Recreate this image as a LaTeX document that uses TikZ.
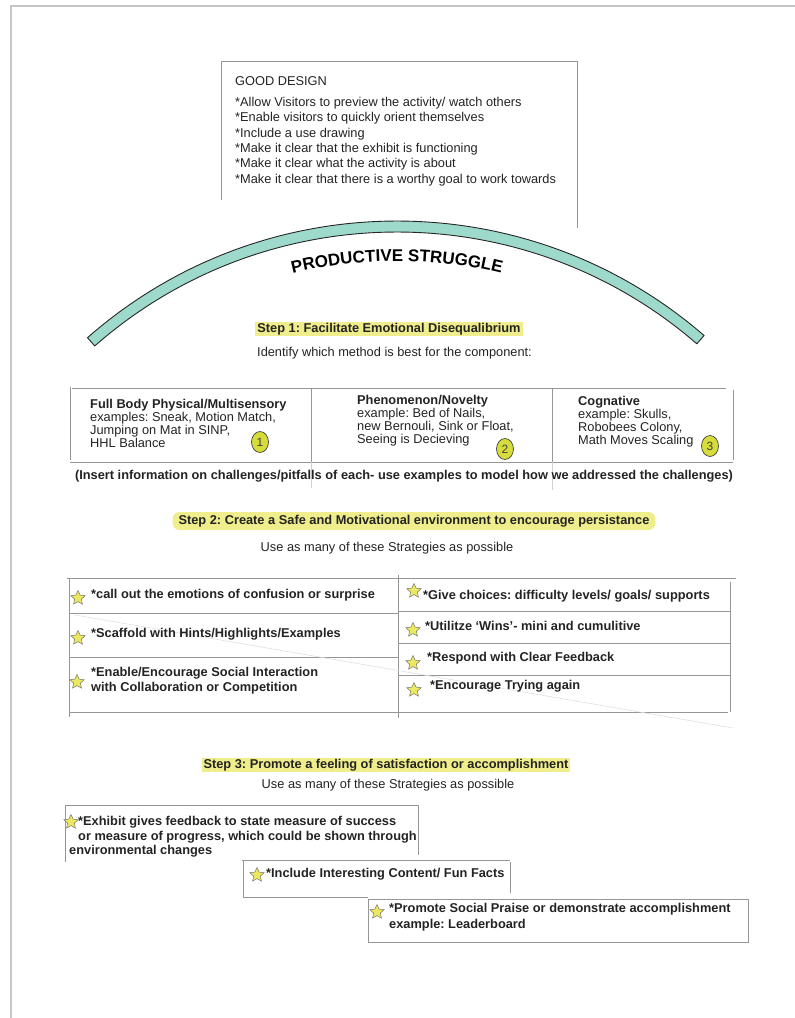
\documentclass[tikz,border=0pt]{standalone}
\usepackage{fontspec}
\setmainfont{Liberation Sans}
\usepackage{tikz}
\usetikzlibrary{shapes.geometric,decorations.text,positioning}
\definecolor{archteal}{RGB}{158,218,204}
\definecolor{hlyellow}{RGB}{240,238,140}
\definecolor{staryellow}{RGB}{236,232,96}
\definecolor{numgreen}{RGB}{214,220,58}
\definecolor{inkgray}{RGB}{35,35,35}
\definecolor{rulegray}{RGB}{150,150,150}
\newcommand{\bodyfont}{\fontsize{12.8}{15.4}\selectfont}
\frenchspacing

\begin{document}
\begin{tikzpicture}[x=1pt,y=-1pt,
  txt/.style={font=\bodyfont, text=inkgray, inner sep=0pt, align=left},
  boldtxt/.style={txt, font=\bodyfont\bfseries},
  hl/.style={fill=hlyellow, inner xsep=2pt, inner ysep=1pt},
  rule/.style={draw=rulegray, line width=.8pt},
  faintrule/.style={draw=rulegray!45, line width=.6pt},
  arcband/.style={draw=black!85, fill=archteal, line width=.9pt, line join=round},
  starmark/.style={star, star points=5, star point ratio=2.1, minimum size=15pt,
    inner sep=0pt, fill=staryellow, draw=black!55, line width=.5pt},
  numring/.style={ellipse, minimum width=17pt, minimum height=21pt, inner sep=0pt,
    fill=numgreen, draw=black!75, line width=.7pt, font=\fontsize{12}{12}\selectfont, text=black!75}
]
\useasboundingbox (0,0) rectangle (795,1018);

% page edge
\draw[gray!45, line width=1.5pt] (11,1018) -- (11,6) -- (795,6);

% good design box
\draw[rule] (221,200) -- (221,61) -- (577,61) -- (577,228);
\node[txt, anchor=west] (gdtitle) at (235,81) {GOOD DESIGN};
\node[txt, anchor=west] (gdlist) at (235,141.5) {*Allow Visitors to preview the activity/ watch others\\
  *Enable visitors to quickly orient themselves\\
  *Include a use drawing\\
  *Make it clear that the exhibit is functioning\\
  *Make it clear what the activity is about\\
  *Make it clear that there is a worthy goal to work towards};

% arch
\draw[arcband] (397,690) ++(228.7:469) arc[start angle=228.7, end angle=310.9, radius=469]
  -- ++(310.9:-11) arc[start angle=310.9, end angle=228.7, radius=458] -- cycle;
\path[decorate, decoration={text along path, text align=center,
  text={|\fontsize{17}{17}\selectfont\bfseries|PRODUCTIVE STRUGGLE}}]
  (397,701) ++(240:440) arc[start angle=240, end angle=300, radius=440];

% step 1
\node[boldtxt, hl] (stepone) at (389,329) {Step 1: Facilitate Emotional Disequalibrium};
\node[txt, anchor=west] (stepnote) at (257,353) {Identify which method is best for the component:};

\draw[rule] (72,388) -- (726,388);
\draw[rule] (70,387) -- (70,460);
\draw[rule] (70,462) -- (733,462);
\draw[rule] (733,390) -- (733,460);
\draw[rule] (311,388) -- (311,462);
\draw[faintrule] (311,462) -- (311,488);
\draw[rule] (552,388) -- (552,462);
\draw[faintrule] (552,462) -- (552,490);

\node[txt, anchor=west, font=\fontsize{12.8}{13}\selectfont] (methodA) at (90,423)
  {\textbf{Full Body Physical/Multisensory}\\examples: Sneak, Motion Match,\\Jumping on Mat in SINP,\\HHL Balance};
\node[txt, anchor=west, font=\fontsize{12.8}{13}\selectfont] (methodB) at (357,421)
  {\textbf{Phenomenon/Novelty}\\example: Bed of Nails,\\new Bernouli, Sink or Float,\\Seeing is Decieving};
\node[txt, anchor=west, font=\fontsize{12.8}{13}\selectfont] (methodC) at (578,422)
  {\textbf{Cognative}\\example: Skulls,\\Robobees Colony,\\Math Moves Scaling};
\node[numring] (numA) at (260,442) {1};
\node[numring] (numB) at (505,449) {2};
\node[numring] (numC) at (710,446) {3};

\node[boldtxt] (pitfalls) at (404,476) {(Insert information on challenges/pitfalls of each- use examples to model how we addressed the challenges)};

% step 2
\node[boldtxt, hl, rounded corners=7pt, inner xsep=6pt, inner ysep=3pt] (steptwo) at (414,521)
  {Step 2: Create a Safe and Motivational environment to encourage persistance};
\node[txt] (twonote) at (387,548) {Use as many of these Strategies as possible};

\draw[rule] (67,578) -- (736,578);
\draw[rule] (69,578) -- (69,717);
\draw[rule] (398,575) -- (398,718);
\draw[rule] (730,582) -- (730,712);
\draw[rule] (69,613) -- (398,613);
\draw[rule] (69,657) -- (398,657);
\draw[rule] (398,611) -- (730,611);
\draw[rule] (398,643) -- (730,643);
\draw[rule] (398,675) -- (730,675);
\draw[rule] (69,712) -- (728,712);
\draw[faintrule, draw=rulegray!30] (75,615) -- (733,728);

\foreach \nm/\px/\py in {sa/78/598, sb/78/638, sc/77/682, sd/414/591, se/413/630, sf/413/663, sg/414/690}
  \node[starmark] (\nm) at (\px,\py) {};

\node[boldtxt, anchor=west] (tipA) at (91,595) {*call out the emotions of confusion or surprise};
\node[boldtxt, anchor=west] (tipB) at (91,634) {*Scaffold with Hints/Highlights/Examples};
\node[boldtxt, anchor=west] (tipC) at (91,680.5) {*Enable/Encourage Social Interaction\\with Collaboration or Competition};
\node[boldtxt, anchor=west] (tipD) at (423,596) {*Give choices: difficulty levels/ goals/ supports};
\node[boldtxt, anchor=west] (tipE) at (425,626) {*Utilitze ‘Wins’- mini and cumulitive};
\node[boldtxt, anchor=west] (tipF) at (427,658) {*Respond with Clear Feedback};
\node[boldtxt, anchor=west] (tipG) at (430,686) {*Encourage Trying again};

% step 3
\node[boldtxt, hl] (stepthree) at (386,765) {Step 3: Promote a feeling of satisfaction or accomplishment};
\node[txt] (threenote) at (388,785) {Use as many of these Strategies as possible};

\draw[rule] (65,862) -- (65,805) -- (418,805) -- (418,855);
\draw[rule] (242,860) -- (510,860);
\draw[rule] (510,862) -- (510,893);
\draw[rule] (243,860) -- (243,897) -- (368,897);
\draw[rule] (368,899) rectangle (748,942);

\node[starmark] (sh) at (71,822) {};
\node[starmark] (si) at (257,875) {};
\node[starmark] (sj) at (377,912) {};

\node[boldtxt, anchor=west, font=\fontsize{12.8}{14.5}\selectfont\bfseries] (goalA) at (78,837)
  {*Exhibit gives feedback to state measure of success\\or measure of progress, which could be shown through\\\hspace*{-9pt}environmental changes};
\node[boldtxt, anchor=west] (goalB) at (266,874) {*Include Interesting Content/ Fun Facts};
\node[boldtxt, anchor=west, font=\fontsize{12.8}{16}\selectfont\bfseries] (goalC) at (389,917)
  {*Promote Social Praise or demonstrate accomplishment\\example: Leaderboard};

\end{tikzpicture}
\end{document}
